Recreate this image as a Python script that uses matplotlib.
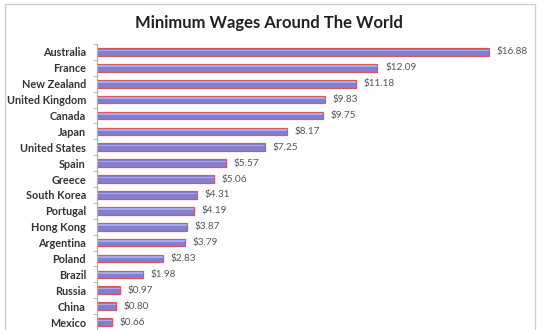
import matplotlib
matplotlib.use('Agg')
import matplotlib.pyplot as plt
from matplotlib.patches import Rectangle
import numpy as np

# Salario mínimo por hora (USD)
paises = ['Australia', 'France', 'New Zealand', 'United Kingdom', 'Canada', 'Japan',
          'United States', 'Spain', 'Greece', 'South Korea', 'Portugal', 'Hong Kong',
          'Argentina', 'Poland', 'Brazil', 'Russia', 'China', 'Mexico']
salarios = [16.88, 12.09, 11.18, 9.83, 9.75, 8.17, 7.25, 5.57, 5.06, 4.31,
            4.19, 3.87, 3.79, 2.83, 1.98, 0.97, 0.80, 0.66]

W, H = 554, 330
fig = plt.figure(figsize=(W / 100, H / 100), dpi=100)
fig.patch.set_facecolor('white')

# Marco del gráfico
fig.patches.append(Rectangle((5 / W, -0.05), 530 / W, 1.037, transform=fig.transFigure,
                             fill=False, edgecolor='#cfcfcf', linewidth=1))

izq, der, arriba = 97, 530, 44
ax = fig.add_axes([izq / W, 0, (der - izq) / W, (H - arriba) / H])
paso = 15.9
escala = 23.2
ax.set_xlim(0, (der - izq) / escala)
ax.set_ylim(-0.5 + (H - arriba) / paso, -0.5)

y = np.arange(len(paises))
ax.barh(y, salarios, height=0.48, color='#7f7fd4', edgecolor='#d9585e', linewidth=0.9)
# Brillo de las barras
ax.barh(y - 0.1, salarios, height=0.1, color='#a8a8ec', linewidth=0)

for yi, v in zip(y, salarios):
    ax.text(v + 0.33, yi, f'${v:.2f}', va='center', ha='left', fontsize=7.2,
            color='#555555', family='Lato')

ax.set_yticks(y)
ax.set_yticklabels(paises, fontsize=7.8, fontweight='bold', color='#333333', family='Lato')
ax.set_yticks(np.arange(len(paises) + 1) - 0.5, minor=True)
ax.tick_params(axis='y', which='major', length=0, pad=8)
ax.tick_params(axis='y', which='minor', length=3, color='#aaaaaa', direction='out')
ax.set_xticks([])
for lado in ['top', 'right', 'bottom']:
    ax.spines[lado].set_visible(False)
ax.spines['left'].set_color('#aaaaaa')
ax.spines['left'].set_linewidth(0.8)

fig.text(269 / W, 1 - 23 / H, 'Minimum Wages Around The World', ha='center', va='center',
         fontsize=12, fontweight='bold', color='#222222', family='Lato')

plt.savefig('out.png', dpi=100)
